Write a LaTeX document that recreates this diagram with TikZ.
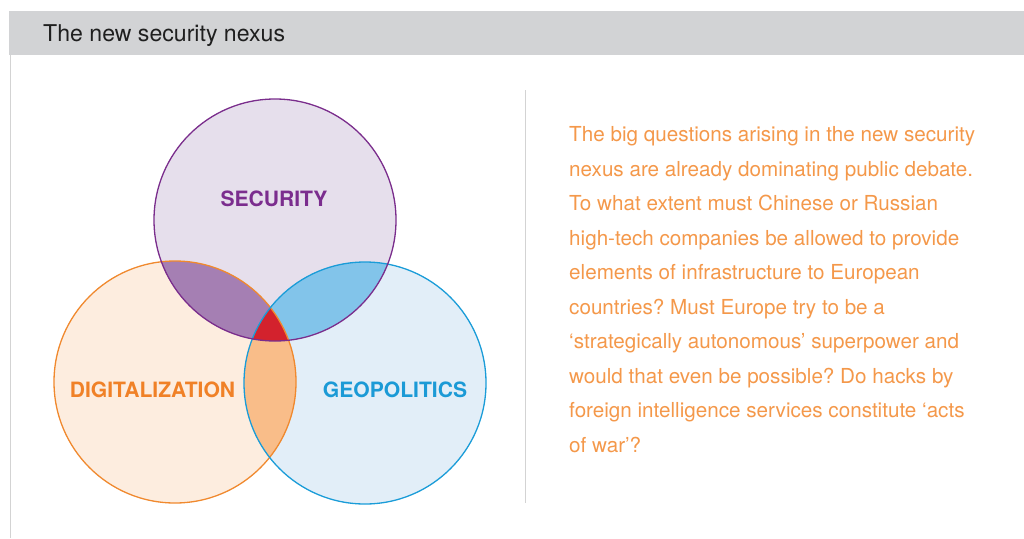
\documentclass[tikz,border=0pt]{standalone}
\usepackage{fontspec}
\setmainfont{TeX Gyre Heros}
\frenchspacing
\definecolor{hdrgray}{HTML}{D2D3D5}
\definecolor{linegray}{HTML}{D3D3D3}
\definecolor{secS}{HTML}{7A2D8C}
\definecolor{secF}{HTML}{E6DFEC}
\definecolor{digS}{HTML}{F0892E}
\definecolor{digF}{HTML}{FDEDDF}
\definecolor{geoS}{HTML}{1A9CD8}
\definecolor{geoF}{HTML}{E2EEF8}
\definecolor{secdig}{HTML}{A57FB3}
\definecolor{secgeo}{HTML}{82C4EA}
\definecolor{diggeo}{HTML}{F9BD89}
\definecolor{allthree}{HTML}{D3222D}
\definecolor{bodyor}{HTML}{F4984A}
\definecolor{labor}{HTML}{F08127}
\definecolor{labbl}{HTML}{1B9AD6}
\definecolor{labpu}{HTML}{7B2D8E}
\tikzset{
  ring/.style={line width=1.3pt},
  bodyline/.style={anchor=base west, inner sep=0pt, text=bodyor, font=\fontsize{20.65}{24}\selectfont},
  setlabel/.style={inner sep=0pt, anchor=base, font=\fontsize{21.1}{24}\selectfont\bfseries}
}
\begin{document}
\begin{tikzpicture}[x=1pt,y=-1pt]
\useasboundingbox (0,0) rectangle (1024,538);
% header band and frame
\fill[hdrgray] (9,11) rectangle (1024,55);
\node[anchor=base west, inner sep=0pt, text=black!88, font=\fontsize{23.1}{26}\selectfont] (title) at (43,41.5) {The new security nexus};
\draw[linegray, line width=1.5pt] (10.5,55) -- (10.5,538);
\coordinate (divtop) at (525.5,90);
\coordinate (divbot) at (525.5,503);
\draw[linegray, line width=1.5pt] (divtop) -- (divbot);
% circles
\coordinate (cs) at (275,220);
\coordinate (cd) at (175,382);
\coordinate (cg) at (365,383);
\fill[secF] (cs) circle[radius=121pt];
\fill[digF] (cd) circle[radius=121pt];
\fill[geoF] (cg) circle[radius=121pt];
\begin{scope}
  \clip (cs) circle[radius=121pt];
  \fill[secdig] (cd) circle[radius=121pt];
  \fill[secgeo] (cg) circle[radius=121pt];
\end{scope}
\begin{scope}
  \clip (cd) circle[radius=121pt];
  \fill[diggeo] (cg) circle[radius=121pt];
  \clip (cg) circle[radius=121pt];
  \fill[allthree] (cs) circle[radius=121pt];
\end{scope}
\draw[ring, digS] (cd) circle[radius=121pt];
\draw[ring, geoS] (cg) circle[radius=121pt];
\draw[ring, secS] (cs) circle[radius=121pt];
% labels
\node[setlabel, text=labpu] (lsec) at (274,206) {SECURITY};
\node[setlabel, text=labor] (ldig) at (152.5,397.5) {DIGITALIZATION};
\node[setlabel, text=labbl] (lgeo) at (395,397.5) {GEOPOLITICS};
% body text
\node[bodyline] (b1) at (569,141.5) {The big questions arising in the new security};
\node[bodyline] (b2) at (569,176) {nexus are already dominating public debate.};
\node[bodyline] (b3) at (569,210.5) {To what extent must Chinese or Russian};
\node[bodyline] (b4) at (569,245) {high-tech companies be allowed to provide};
\node[bodyline] (b5) at (569,279.5) {elements of infrastructure to European};
\node[bodyline] (b6) at (569,314) {countries? Must Europe try to be a};
\node[bodyline] (b7) at (569,348.5) {‘strategically autonomous’ superpower and};
\node[bodyline] (b8) at (569,383) {would that even be possible? Do hacks by};
\node[bodyline] (b9) at (569,417.5) {foreign intelligence services constitute ‘acts};
\node[bodyline] (b10) at (569,452) {of war’?};
\end{tikzpicture}
\end{document}
